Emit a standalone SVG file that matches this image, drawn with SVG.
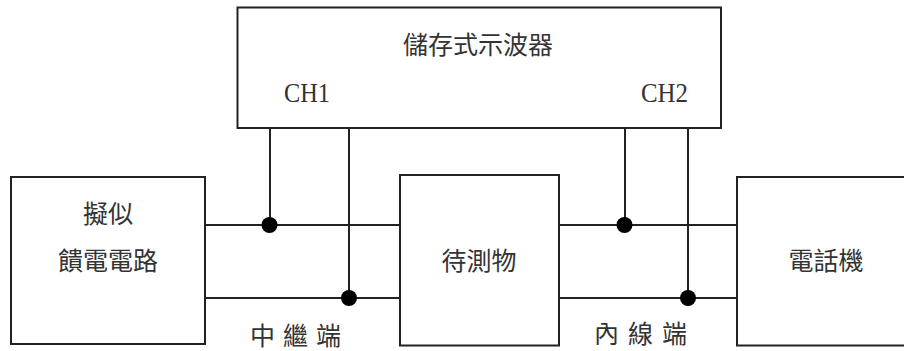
<svg xmlns="http://www.w3.org/2000/svg" width="904" height="351" viewBox="0 0 904 351">
<style>
.box{fill:#fff;stroke:#222;stroke-width:2}
.wire{fill:none;stroke:#222;stroke-width:2}
.dot{fill:#000}
.cjk{font-family:"Noto Sans CJK TC","Noto Sans CJK SC",sans-serif;font-size:25px;fill:#333}
.lat{font-family:"Liberation Serif",serif;font-size:27px;fill:#333}
</style>
<rect width="904" height="351" fill="#fff"/>
<g id="connectors">
<path class="wire" d="M205 225H400M205 298H400M559 225H737M559 298H737"/>
<path class="wire" d="M270 128V225M349 128V298M625 128V225M688 128V298"/>
<circle class="dot" cx="269.5" cy="225" r="8"/>
<circle class="dot" cx="349" cy="298" r="8"/>
<circle class="dot" cx="624.5" cy="225" r="8"/>
<circle class="dot" cx="688" cy="298" r="8"/>
</g>
<g id="oscilloscope">
<rect class="box" x="237.5" y="7.5" width="483.5" height="120.5"/>
<text class="cjk" x="478" y="54" text-anchor="middle">儲存式示波器</text>
<text class="lat" x="284" y="102" textLength="46" lengthAdjust="spacingAndGlyphs">CH1</text>
<text class="lat" x="641" y="102" textLength="47" lengthAdjust="spacingAndGlyphs">CH2</text>
</g>
<g id="feed">
<rect class="box" x="11" y="177" width="194" height="167"/>
<text class="cjk" x="108" y="222.5" text-anchor="middle">擬似</text>
<text class="cjk" x="108" y="269.5" text-anchor="middle">饋電電路</text>
</g>
<g id="dut">
<rect class="box" x="400" y="175" width="159" height="170.5"/>
<text class="cjk" x="479" y="269.5" text-anchor="middle">待測物</text>
</g>
<g id="phone">
<rect class="box" x="737" y="177" width="180" height="168.5"/>
<text class="cjk" x="826" y="269.5" text-anchor="middle">電話機</text>
</g>
<g id="labels">
<text class="cjk" x="250" y="345" font-size="24" letter-spacing="8">中繼端</text>
<text class="cjk" x="594" y="343" font-size="24" letter-spacing="9">內線端</text>
</g>
</svg>
